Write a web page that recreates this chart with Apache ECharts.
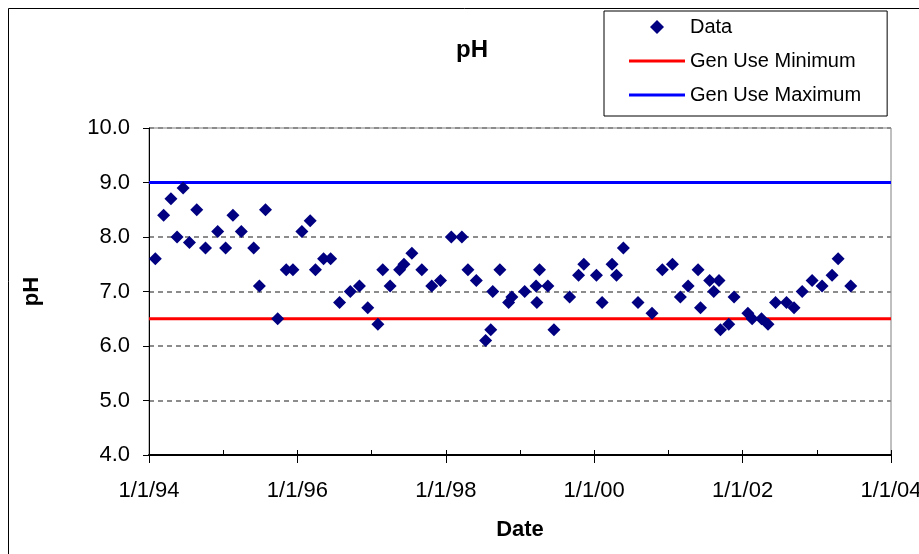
<!DOCTYPE html>
<html>
<head>
<meta charset="utf-8">
<script src="https://cdn.jsdelivr.net/npm/echarts@6/dist/echarts.min.js"></script>
<style>
html,body{margin:0;padding:0;background:#fff;}
#chart{width:919px;height:554px;}
</style>
</head>
<body>
<div id="chart"></div>
<script>
// ---- Data ----
const sampleDates = [
  '1994-02-01','1994-03-14','1994-04-19','1994-05-19','1994-06-18','1994-07-19','1994-08-24','1994-10-06','1994-12-05',
  '1995-01-13','1995-02-18','1995-03-31','1995-05-31','1995-06-28','1995-07-28','1995-09-26','1995-11-07','1995-12-10',
  '1996-01-23','1996-03-04','1996-03-30','1996-05-09','1996-06-13','1996-07-27','1996-09-18','1996-11-02','1996-12-13',
  '1997-02-01','1997-02-25','1997-04-02','1997-05-19','1997-06-09','1997-07-18','1997-09-05','1997-10-24','1997-12-06',
  '1998-01-28','1998-03-21','1998-04-20','1998-05-31','1998-07-16','1998-08-10','1998-08-20','1998-09-24','1998-11-06','1998-11-22',
  '1999-01-24','1999-03-21','1999-03-25','1999-04-07','1999-05-18','1999-06-17','1999-09-02','1999-10-16','1999-11-11',
  '2000-01-12','2000-02-09','2000-03-29','2000-04-20','2000-05-24','2000-08-04','2000-10-12','2000-12-02',
  '2001-01-21','2001-03-01','2001-04-08','2001-05-27','2001-06-08','2001-07-23','2001-08-12','2001-09-07','2001-09-14','2001-10-25','2001-11-20',
  '2002-01-27','2002-02-17','2002-04-04','2002-05-06','2002-06-12','2002-08-05','2002-09-11','2002-10-21','2002-12-09',
  '2003-01-27','2003-03-17','2003-04-16','2003-06-17'
];
const phValues = [
  7.6, 8.4, 8.7, 8.0, 8.9, 7.9, 8.5, 7.8, 8.1,
  7.8, 8.4, 8.1, 7.8, 7.1, 8.5, 6.5, 7.4, 7.4,
  8.1, 8.3, 7.4, 7.6, 7.6, 6.8, 7.0, 7.1, 6.7,
  6.4, 7.4, 7.1, 7.4, 7.5, 7.7, 7.4, 7.1, 7.2,
  8.0, 8.0, 7.4, 7.2, 6.1, 6.3, 7.0, 7.4, 6.8, 6.9,
  7.0, 7.1, 6.8, 7.4, 7.1, 6.3, 6.9, 7.3, 7.5,
  7.3, 6.8, 7.5, 7.3, 7.8, 6.8, 6.6, 7.4,
  7.5, 6.9, 7.1, 7.4, 6.7, 7.2, 7.0, 7.2, 6.3, 6.4, 6.9,
  6.6, 6.5, 6.5, 6.4, 6.8, 6.8, 6.7, 7.0, 7.2,
  7.1, 7.3, 7.6, 7.1
];
const limitDates = ['1994-01-01', '2004-01-01'];
const genUseMinimum = [6.5, 6.5];
const genUseMaximum = [9.0, 9.0];
const xTickLabels = ['1/1/94', '1/1/96', '1/1/98', '1/1/00', '1/1/02', '1/1/04'];
const seriesNames = ['Data', 'Gen Use Minimum', 'Gen Use Maximum'];

// date string -> decimal year (position on the value axis)
function toYear(s) {
  const p = s.split('-').map(Number);
  const t = Date.UTC(p[0], p[1] - 1, p[2]);
  const a = Date.UTC(p[0], 0, 1), b = Date.UTC(p[0] + 1, 0, 1);
  return p[0] + (t - a) / (b - a);
}

const FONT = 'Liberation Sans, Arial, sans-serif';
const chart = echarts.init(document.getElementById('chart'), null, {renderer: 'canvas'});

const LINE_ICON = 'path://M0,0 L56,0 L56,3 L0,3 Z';
const DIAMOND_ICON = 'path://M6,0 L12,6 L6,12 L0,6 Z';

const option = {
  backgroundColor: '#ffffff',
  animation: false,
  graphic: [{
    type: 'rect', silent: true, z: -10,
    shape: {x: 8.5, y: 8.5, width: 1000, height: 1000},
    style: {fill: null, stroke: '#000', lineWidth: 1}
  }],
  title: {
    text: 'pH', left: 451, top: 33,
    textStyle: {fontFamily: FONT, fontSize: 24, fontWeight: 'bold', color: '#000'}
  },
  legend: {
    orient: 'vertical', left: 604, top: 11,
    padding: [6, 26, 11, 25], itemGap: 14, itemWidth: 56, itemHeight: 14,
    symbolKeepAspect: true,
    borderColor: '#000', borderWidth: 1, backgroundColor: '#fff',
    textStyle: {fontFamily: FONT, fontSize: 20, lineHeight: 20, color: '#000'},
    data: [
      {name: seriesNames[0], icon: DIAMOND_ICON},
      {name: seriesNames[1], icon: LINE_ICON},
      {name: seriesNames[2], icon: LINE_ICON}
    ]
  },
  grid: {
    left: 149, right: 28, top: 128, bottom: 99,
    outerBoundsMode: 'none', containLabel: false,
    show: true, borderColor: '#808080', borderWidth: 1, backgroundColor: 'transparent'
  },
  xAxis: [{
    type: 'value', min: 1994, max: 2004, interval: 1,
    name: 'Date', nameLocation: 'middle', nameGap: 64,
    nameTextStyle: {fontFamily: FONT, fontSize: 22, fontWeight: 'bold', color: '#000'},
    axisLine: {show: true, lineStyle: {color: '#000', width: 2}},
    axisTick: {show: true, inside: true, length: 5, lineStyle: {color: '#000', width: 1}},
    axisLabel: {
      fontFamily: FONT, fontSize: 22, color: '#000', margin: 25, showMinLabel: true, showMaxLabel: true,
      hideOverlap: false,
      formatter: function (v) {
        const k = Math.round(v) - 1994;
        return k % 2 === 0 ? xTickLabels[k / 2] : '';
      }
    },
    splitLine: {show: false}
  }, {
    type: 'value', min: 1994, max: 2004, interval: 2, position: 'bottom',
    axisLine: {show: false},
    axisTick: {show: true, inside: false, length: 8, lineStyle: {color: '#000', width: 1}},
    axisLabel: {show: false},
    splitLine: {show: false}
  }],
  yAxis: {
    type: 'value', min: 4, max: 10, interval: 1,
    name: 'pH', nameLocation: 'middle', nameGap: 106, nameRotate: 90,
    nameTextStyle: {fontFamily: FONT, fontSize: 22, fontWeight: 'bold', color: '#000'},
    axisLine: {show: true, lineStyle: {color: '#000', width: 1}},
    axisTick: {show: true, inside: false, length: 6, lineStyle: {color: '#000'}},
    axisLabel: {
      fontFamily: FONT, fontSize: 22, color: '#000', margin: 19,
      formatter: function (v) { return v.toFixed(1); }
    },
    splitLine: {show: true, lineStyle: {color: '#8c8c8c', width: 2, type: [5, 4]}}
  },
  series: [{
    name: seriesNames[1], type: 'line', xAxisIndex: 0, symbol: 'none', z: 3,
    lineStyle: {color: '#ff0000', width: 3}, itemStyle: {color: '#ff0000'},
    data: limitDates.map((d, i) => [toYear(d), genUseMinimum[i]])
  }, {
    name: seriesNames[2], type: 'line', xAxisIndex: 0, symbol: 'none', z: 3,
    lineStyle: {color: '#0000ff', width: 3}, itemStyle: {color: '#0000ff'},
    data: limitDates.map((d, i) => [toYear(d), genUseMaximum[i]])
  }, {
    name: seriesNames[0], type: 'scatter', xAxisIndex: 0, symbol: 'diamond', symbolSize: 13, z: 5,
    itemStyle: {color: '#000080', opacity: 1},
    data: sampleDates.map((d, i) => [toYear(d), phValues[i]])
  }]
};
chart.setOption(option);
</script>
</body>
</html>
